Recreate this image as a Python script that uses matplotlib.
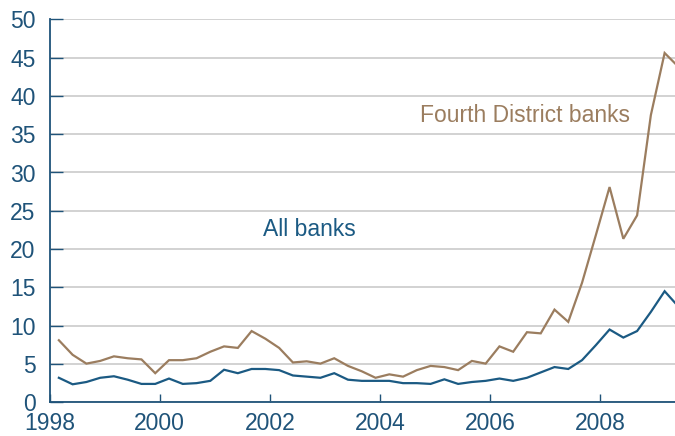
import matplotlib
matplotlib.use("Agg")
import matplotlib.pyplot as plt
import numpy as np

# Quarterly data, 1998 through mid-2009
start_year = 1998.17
fourth_district = [8.1, 6.2, 5.05, 5.4, 6.0, 5.75, 5.6, 3.8, 5.5, 5.5, 5.75, 6.6,
                   7.3, 7.1, 9.3, 8.3, 7.1, 5.2, 5.35, 5.05, 5.75, 4.75, 4.05, 3.2,
                   3.65, 3.35, 4.2, 4.75, 4.6, 4.2, 5.4, 5.05, 7.3, 6.6, 9.15, 9.0,
                   12.1, 10.5, 15.6, 21.8, 28.1, 21.35, 24.4, 37.5, 45.6, 43.8]
all_banks = [3.2, 2.35, 2.65, 3.2, 3.4, 2.95, 2.4, 2.4, 3.1, 2.4, 2.5, 2.8,
             4.25, 3.8, 4.35, 4.35, 4.2, 3.5, 3.35, 3.2, 3.8, 2.95, 2.8, 2.8,
             2.8, 2.5, 2.5, 2.4, 3.0, 2.4, 2.65, 2.8, 3.1, 2.8, 3.2, 3.9,
             4.6, 4.35, 5.5, 7.45, 9.5, 8.45, 9.3, 11.8, 14.5, 12.5]
x_ticks = [1998, 2000, 2002, 2004, 2006, 2008]
y_ticks = [0, 5, 10, 15, 20, 25, 30, 35, 40, 45, 50]

dates = start_year + 0.25 * np.arange(len(fourth_district))

brown = "#9b7d5f"
blue = "#1b5a83"
axis_col = "#1f5379"

plt.rcParams['font.family'] = ['Liberation Sans', 'DejaVu Sans']

fig = plt.figure(figsize=(6.75, 4.36), dpi=100)
W, H = 675, 436
ax = fig.add_axes([49.5 / W, (H - 402.3) / H, (W - 49.5) / W, (402.3 - 19.3) / H])

ax.plot(dates, fourth_district, color=brown, lw=1.6, solid_joinstyle='miter', zorder=3)
ax.plot(dates, all_banks, color=blue, lw=1.6, solid_joinstyle='miter', zorder=3)

ax.set_xlim(1998, 1998 + (W - 49.5) / 55.07)
ax.set_ylim(0, 50)
ax.set_xticks(x_ticks)
ax.set_yticks(y_ticks)
ax.set_xticklabels([str(t) for t in x_ticks])
ax.set_yticklabels([str(t) for t in y_ticks])

ax.grid(axis='y', color='#cfcfcf', lw=1.3, zorder=0)
ax.set_axisbelow(True)

for s in ['top', 'right']:
    ax.spines[s].set_visible(False)
for s in ['left', 'bottom']:
    ax.spines[s].set_color(axis_col)
    ax.spines[s].set_linewidth(1.3)

ax.tick_params(axis='both', direction='in', color=axis_col, labelcolor=axis_col,
               labelsize=16.5, width=1.0)
ax.tick_params(axis='y', length=9, pad=10)
ax.tick_params(axis='x', length=6, pad=7)

ax.text(420, H - 115, "Fourth District banks", transform=None, color=brown,
        fontsize=16.5, va='center', ha='left')
ax.text(263, H - 229, "All banks", transform=None, color=blue,
        fontsize=16.5, va='center', ha='left')

fig.savefig("out.png", dpi=100)
